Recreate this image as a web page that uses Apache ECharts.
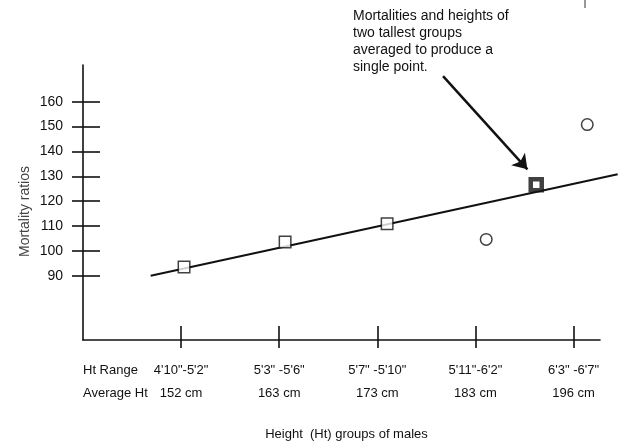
<!DOCTYPE html>
<html><head><meta charset="utf-8">
<script src="https://cdn.jsdelivr.net/npm/echarts@6/dist/echarts.min.js"></script>
<style>html,body{margin:0;padding:0;background:#fff}#c{width:618px;height:442px}</style>
</head><body><div id="c"></div>
<script>
// ---- data ----
const rangeLabels = ["4'10\"-5'2\"", "5'3\" -5'6\"", "5'7\" -5'10\"", "5'11\"-6'2\"", "6'3\" -6'7\""];
const avgLabels = ["152 cm", "163 cm", "173 cm", "183 cm", "196 cm"];
const rowHeaders = ["Ht Range", "Average Ht"];
const groupTicks = [0, 1, 2, 3, 4];
const yTicks = [90, 100, 110, 120, 130, 140, 150, 160];
const squarePoints = [[0.03, 93.5], [1.06, 103.5], [2.1, 110.9]];
const circlePoints = [[3.11, 104.6], [4.14, 150.8]];
const averagedPoint = [[3.62, 126.6]];
const fitLine = [[-0.31, 90.0], [4.45, 130.8]];
const arrowFrom = [2.67, 170.3];
const arrowTo = [3.53, 132.8];
const noteText = "Mortalities and heights of\ntwo tallest groups\naveraged to produce a\nsingle point.";
const yName = "Mortality ratios";
const xName = "Height  (Ht) groups of males";

const FONT = "'Liberation Sans', Arial, Helvetica, sans-serif";
const INK = '#111';
const chart = echarts.init(document.getElementById('c'), null, {renderer: 'canvas'});
const X_MIN = -1, X_MAX = 4.27, Y_MIN = 64.1, Y_MAX = 174.8;
// second (overlay) grid is wider so the fitted line can run to the page edge
const X_MAX_WIDE = X_MAX + 18 * (X_MAX - X_MIN) / 517;

chart.setOption({
  animation: false,
  backgroundColor: '#fff',
  grid: [
    {left: 83, right: 18, top: 65, bottom: 102, containLabel: false, outerBoundsMode: 'none'},
    {left: 83, right: 0, top: 65, bottom: 102, containLabel: false, outerBoundsMode: 'none'}
  ],
  xAxis: [{
    type: 'value', gridIndex: 0, min: X_MIN, max: X_MAX,
    splitLine: {show: false},
    axisLine: {show: true, onZero: false, lineStyle: {color: INK, width: 1.6}},
    axisTick: {show: true, inside: true, length: 14, customValues: groupTicks, lineStyle: {color: INK, width: 1.6}},
    axisLabel: {
      show: true, customValues: groupTicks, margin: 19,
      formatter: v => '{a|' + rangeLabels[Math.round(v)] + '}\n{b|' + avgLabels[Math.round(v)] + '}',
      rich: {
        a: {fontFamily: FONT, fontSize: 13, color: '#111', lineHeight: 23},
        b: {fontFamily: FONT, fontSize: 13, color: '#111', lineHeight: 23}
      }
    },
    name: xName, nameLocation: 'middle', nameGap: 88, nameMoveOverlap: false,
    nameTextStyle: {fontFamily: FONT, fontSize: 13, color: '#111', padding: [0, 0, 0, 10]}
  }, {
    type: 'value', gridIndex: 1, min: X_MIN, max: X_MAX_WIDE,
    splitLine: {show: false},
    axisLine: {show: false, onZero: false},
    axisTick: {show: true, inside: false, length: 8, customValues: groupTicks, lineStyle: {color: INK, width: 1.6}},
    axisLabel: {
      show: true, customValues: [X_MIN], margin: 19, align: 'left', showMinLabel: true,
      formatter: () => '{a|' + rowHeaders[0] + '}\n{b|' + rowHeaders[1] + '}',
      rich: {
        a: {fontFamily: FONT, fontSize: 13, color: '#111', lineHeight: 23, align: 'left'},
        b: {fontFamily: FONT, fontSize: 13, color: '#111', lineHeight: 23, align: 'left'}
      }
    }
  }],
  yAxis: [{
    type: 'value', gridIndex: 0, min: Y_MIN, max: Y_MAX,
    splitLine: {show: false},
    axisLine: {show: true, onZero: false, lineStyle: {color: INK, width: 1.6}},
    axisTick: {show: true, inside: true, length: 17, customValues: yTicks, lineStyle: {color: INK, width: 1.6}},
    axisLabel: {show: true, customValues: yTicks, margin: 20, fontFamily: FONT, fontSize: 14, color: '#111'},
    name: yName, nameLocation: 'middle', nameGap: 51, nameMoveOverlap: false,
    nameTextStyle: {fontFamily: FONT, fontSize: 14, color: '#444', padding: [0, 18, 0, 0]}
  }, {
    type: 'value', gridIndex: 1, min: Y_MIN, max: Y_MAX,
    splitLine: {show: false},
    axisLine: {show: false, onZero: false},
    axisTick: {show: true, inside: false, length: 11, customValues: yTicks, lineStyle: {color: INK, width: 1.6}},
    axisLabel: {show: false}
  }],
  graphic: [{
    type: 'text', left: 353, top: 8, silent: true,
    style: {text: noteText, fontFamily: FONT, fontSize: 14, lineHeight: 17, fill: '#111'}
  }, {
    type: 'line', silent: true,
    shape: {x1: 585, y1: 0, x2: 585, y2: 8},
    style: {stroke: '#333', lineWidth: 1}
  }],
  series: [{
    type: 'line', xAxisIndex: 1, yAxisIndex: 1, data: fitLine,
    showSymbol: false, clip: false, silent: true, z: 2,
    lineStyle: {color: INK, width: 2}
  }, {
    type: 'scatter', xAxisIndex: 0, yAxisIndex: 0, data: squarePoints,
    symbol: 'rect', symbolSize: 11.5, silent: true, z: 3,
    itemStyle: {color: '#fff', borderColor: INK, borderWidth: 1.5}
  }, {
    type: 'scatter', xAxisIndex: 0, yAxisIndex: 0, data: circlePoints,
    symbol: 'circle', symbolSize: 11.5, silent: true, z: 3,
    itemStyle: {color: '#fff', borderColor: INK, borderWidth: 1.5}
  }, {
    type: 'scatter', xAxisIndex: 0, yAxisIndex: 0, data: averagedPoint,
    symbol: 'rect', symbolSize: 11, silent: true, z: 3,
    itemStyle: {color: '#fff', borderColor: INK, borderWidth: 4.5},
    markLine: {
      silent: true, animation: false,
      symbol: ['none', 'arrow'], symbolSize: 14,
      label: {show: false},
      lineStyle: {color: INK, width: 2.5, type: 'solid'},
      data: [[{coord: arrowFrom}, {coord: arrowTo}]]
    }
  }]
});
</script>
</body></html>
